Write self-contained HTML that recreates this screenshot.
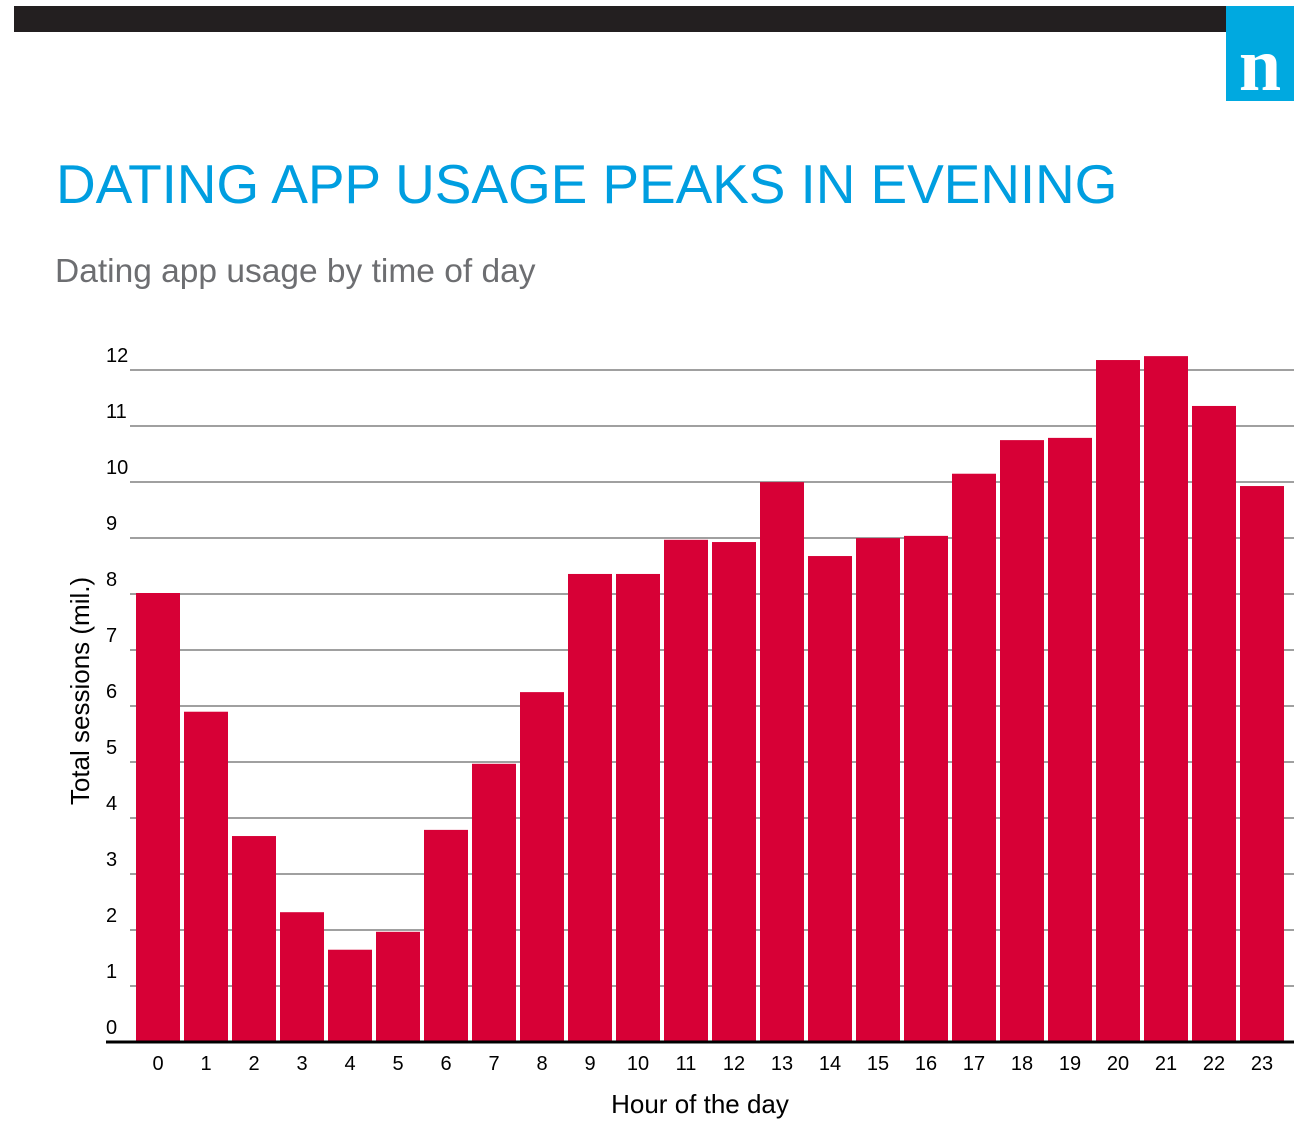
<!DOCTYPE html>
<html><head><meta charset="utf-8"><style>
body{margin:0;width:1312px;height:1128px;background:#fff;overflow:hidden;position:relative;font-family:"Liberation Sans",sans-serif}
.topbar{position:absolute;left:14px;top:6px;width:1212px;height:26px;background:#231f20}
.logo{position:absolute;left:1226px;top:6px;width:68px;height:95px;background:#00a9e0;color:#fff;font-family:"Liberation Serif",serif;font-size:76px;font-weight:bold;text-align:center;line-height:118px}
.title{position:absolute;left:56px;top:152px;font-size:55px;color:#009ee0;letter-spacing:-0.1px;white-space:nowrap}
.sub{position:absolute;left:55px;top:253px;font-size:33.5px;color:#6d6e71;white-space:nowrap}
</style></head><body>
<div class="topbar"></div>
<div class="logo">n</div>
<div class="title">DATING APP USAGE PEAKS IN EVENING</div>
<div class="sub">Dating app usage by time of day</div>
<svg id="chart" width="1312" height="1128" style="position:absolute;left:0;top:0"></svg>
<script>
const hours=["0","1","2","3","4","5","6","7","8","9","10","11","12","13","14","15","16","17","18","19","20","21","22","23"];
const sessions=[8.0,5.88,3.66,2.3,1.63,1.95,3.77,4.95,6.23,8.34,8.34,8.95,8.91,9.98,8.66,8.98,9.02,10.13,10.73,10.77,12.16,12.23,11.34,9.91];
const yTicks=[0,1,2,3,4,5,6,7,8,9,10,11,12];
const svg=document.getElementById('chart');const NS='http://www.w3.org/2000/svg';
const y0=1041,unit=56,x0=136,step=48,bw=44;
const y=v=>y0-v*unit;const x=i=>x0+i*step;
function mk(t,a){const e=document.createElementNS(NS,t);for(const k in a)e.setAttribute(k,a[k]);svg.appendChild(e);return e;}
yTicks.forEach(v=>{
 if(v>0){const l=mk('line',{x1:130,x2:1294,y1:y(v)+1,y2:y(v)+1,stroke:'#808080','stroke-width':1.5});
 
 }
 const t=mk('text',{x:106,y:y(v)-7,'font-size':20,fill:'#000'});t.textContent=v;
 
 
});
sessions.forEach((v,i)=>{
 const r=mk('rect',{x:x(i),y:y(v),width:bw,height:v*unit,fill:'#d70036'});
 
 
 const t=mk('text',{x:x(i)+bw/2,y:1070,'font-size':20,'text-anchor':'middle',fill:'#000'});t.textContent=hours[i];
 
 
});
const ax=mk('line',{x1:106,x2:1294,y1:y0+1,y2:y0+1,stroke:'#000','stroke-width':3});


const xt=mk('text',{x:700,y:1113,'font-size':26,'text-anchor':'middle',fill:'#000'});xt.textContent='Hour of the day';


const yt=mk('text',{x:0,y:0,'font-size':26,'text-anchor':'middle',fill:'#000',transform:'translate(89,691) rotate(-90)'});yt.textContent='Total sessions (mil.)';


</script>
</body></html>
